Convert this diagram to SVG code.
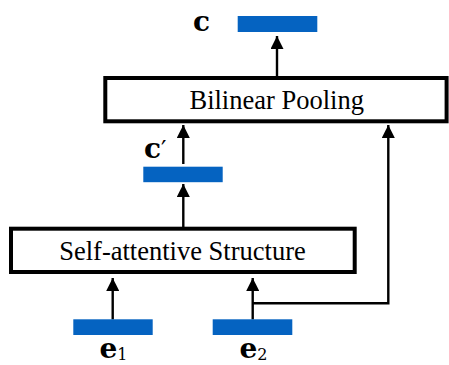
<svg xmlns="http://www.w3.org/2000/svg" width="449" height="365" viewBox="0 0 449 365">
<style>
.bar{fill:#0563C1}
.box{fill:#fff;stroke:#000;stroke-width:4}
.lbl{font-family:"Liberation Serif","Times New Roman",serif;font-size:26.5px;fill:#000}
.math{font-family:"DejaVu Serif",serif;font-weight:bold;font-size:28px;fill:#000}
.sub{font-family:"DejaVu Serif",serif;font-weight:normal;font-size:16px}
.conn{fill:none;stroke:#000;stroke-width:2.4}
</style>
<defs>
<marker id="ah" markerUnits="userSpaceOnUse" markerWidth="13" markerHeight="13" viewBox="0 0 13 13" refX="13" refY="6.5" orient="auto">
<path d="M0,0 L13,6.5 L0,13 Z" fill="#000"/>
</marker>
</defs>
<g id="connectors">
<line class="conn" x1="277" y1="76" x2="277" y2="36" marker-end="url(#ah)"/>
<line class="conn" x1="183.3" y1="164" x2="183.3" y2="125" marker-end="url(#ah)"/>
<line class="conn" x1="183.3" y1="227" x2="183.3" y2="184" marker-end="url(#ah)"/>
<line class="conn" x1="112.7" y1="319.5" x2="112.7" y2="278" marker-end="url(#ah)"/>
<line class="conn" x1="252.7" y1="319.5" x2="252.7" y2="278" marker-end="url(#ah)"/>
<polyline class="conn" points="252.7,303.3 388.3,303.3 388.3,125" marker-end="url(#ah)"/>
</g>
<g id="c">
<rect class="bar" x="237.7" y="16" width="79.6" height="16"/>
<text class="math" x="193" y="31">c</text>
</g>
<g id="bilinear">
<rect class="box" x="105.3" y="78" width="341.3" height="43.3"/>
<text class="lbl" x="276.7" y="109.3" text-anchor="middle">Bilinear Pooling</text>
</g>
<g id="cprime">
<rect class="bar" x="143.3" y="166.7" width="79.4" height="15.5"/>
<text class="math" x="144" y="158">c<tspan font-weight="normal" font-size="24">′</tspan></text>
</g>
<g id="selfatt">
<rect class="box" x="11" y="228.7" width="343.7" height="43.3"/>
<text class="lbl" x="182.5" y="260" text-anchor="middle">Self-attentive Structure</text>
</g>
<g id="e1">
<rect class="bar" x="73.3" y="319.3" width="79.4" height="15.7"/>
<text class="math" x="99.5" y="358">e<tspan class="sub" dy="2">1</tspan></text>
</g>
<g id="e2">
<rect class="bar" x="212.7" y="319.3" width="79.6" height="15.7"/>
<text class="math" x="239.5" y="358">e<tspan class="sub" dy="2">2</tspan></text>
</g>
</svg>
